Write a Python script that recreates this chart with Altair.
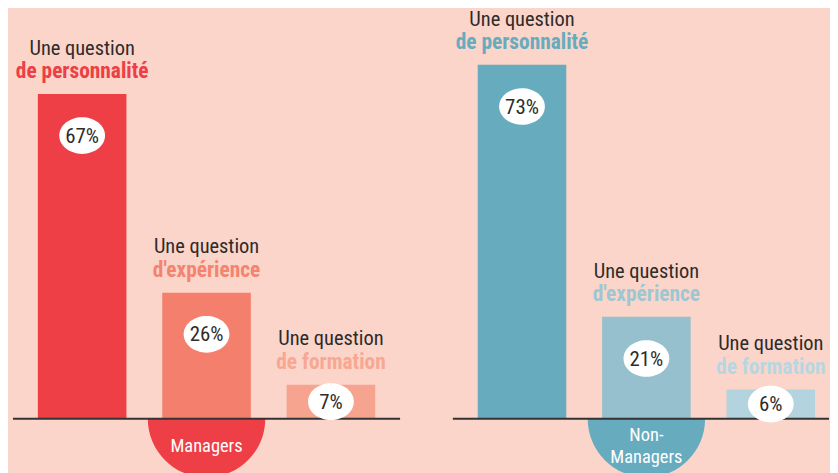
import altair as alt
import pandas as pd
import numpy as np

# ---------------- data ----------------
categories = ["personnalite", "experience", "formation"]
cat_labels = ["de personnalité", "d'expérience", "de formation"]
intro_text = "Une question"
managers_values = [67, 26, 7]
non_managers_values = [73, 21, 6]
managers_title = ["Managers"]
non_managers_title = ["Non-", "Managers"]

# ---------------- styles ----------------
BG = "#FBD5C9"
managers_bar_colors = ["#EE3E46", "#F37F6C", "#F6A48F"]
managers_text_colors = ["#EE3E46", "#F4836F", "#F7A792"]
non_managers_bar_colors = ["#67ABBF", "#96C0CD", "#B3D4DF"]
non_managers_text_colors = ["#67ABBF", "#9DC7D3", "#B6D7E2"]
DARK = "#2E2B2B"
FONT = "Liberation Sans Narrow, Roboto Condensed, Arial Narrow, sans-serif"

PX_PER_PCT = 4.87
H = 456
BASE = 410.5
y_domain = [-(H - BASE) / PX_PER_PCT, BASE / PX_PER_PCT]

SEMI = "M -1 0 A 1 1 0 0 0 1 0 Z"
ELLIPSE = "M -1 0 A 1 0.8 0 1 0 1 0 A 1 0.8 0 1 0 -1 0 Z"


def panel(values, bar_colors, text_colors, title_lines, width, pad_outer, align):
    df = pd.DataFrame({"cat": categories, "label": cat_labels, "value": values})
    df["pct"] = df["value"].astype(str) + "%"
    df["label_y"] = np.maximum(df["value"] - 8.6, df["value"] / 2)

    x = alt.X("cat:N", sort=categories,
              scale=alt.Scale(paddingInner=0.288, paddingOuter=pad_outer, align=align),
              axis=None)
    ys = alt.Scale(domain=y_domain, nice=False, zero=False)
    base = alt.Chart(df).encode(x=x)

    bars = base.mark_bar().encode(
        y=alt.Y("value:Q", scale=ys, axis=None),
        y2=alt.datum(0),
        color=alt.Color("cat:N", scale=alt.Scale(domain=categories, range=bar_colors), legend=None),
    )
    mid = alt.Chart(df.iloc[[1]]).encode(x=x)
    semi = mid.mark_point(shape=SEMI, size=118 * 118, filled=True, opacity=1,
                          color=bar_colors[0], strokeWidth=0).encode(
        y=alt.Y(datum=0, scale=ys, axis=None))
    rule = alt.Chart(df.iloc[[0]]).mark_rule(color="#333333", strokeWidth=2).encode(
        y=alt.Y(datum=0, scale=ys, axis=None))
    ell = base.mark_point(shape=ELLIPSE, size=46 * 46, filled=True, opacity=1,
                          color="white", strokeWidth=0).encode(
        y=alt.Y("label_y:Q", scale=ys, axis=None))
    pct = base.mark_text(font=FONT, fontSize=21, color=DARK, baseline="middle", dy=1).encode(
        y=alt.Y("label_y:Q", scale=ys, axis=None), text="pct:N")
    intro = base.mark_text(font=FONT, fontSize=20.5, color=DARK, baseline="alphabetic",
                           dy=-39.5, text=intro_text).encode(
        y=alt.Y("value:Q", scale=ys, axis=None))
    lab = base.mark_text(font=FONT, fontSize=21.5, fontWeight="bold", baseline="alphabetic",
                         dy=-16).encode(
        y=alt.Y("value:Q", scale=ys, axis=None), text="label:N",
        fill=alt.Fill("cat:N", scale=alt.Scale(domain=categories, range=text_colors), legend=None))
    titles = []
    n = len(title_lines)
    for i, t in enumerate(title_lines):
        titles.append(mid.mark_text(font=FONT, fontSize=18.5, color="white", baseline="middle",
                                    dy=27.5 + (i - (n - 1) / 2) * 21.5, text=t).encode(
            y=alt.Y(datum=0, scale=ys, axis=None)))
    return alt.layer(bars, semi, rule, ell, pct, intro, lab, *titles).properties(
        width=width, height=H)


left = panel(managers_values, managers_bar_colors, managers_text_colors, managers_title,
             389, 0.2, 0.5)
right = panel(non_managers_values, non_managers_bar_colors, non_managers_text_colors,
              non_managers_title, 378, 0.156, 0.641)

chart = alt.hconcat(left, right, spacing=51).resolve_scale(
    color="independent", fill="independent", x="independent"
).properties(
    background=BG,
    padding={"left": 4, "top": 0, "right": 0, "bottom": 0},
).configure_view(stroke=None)

chart.save("out.html", embed_options={"renderer": "svg", "actions": False})
